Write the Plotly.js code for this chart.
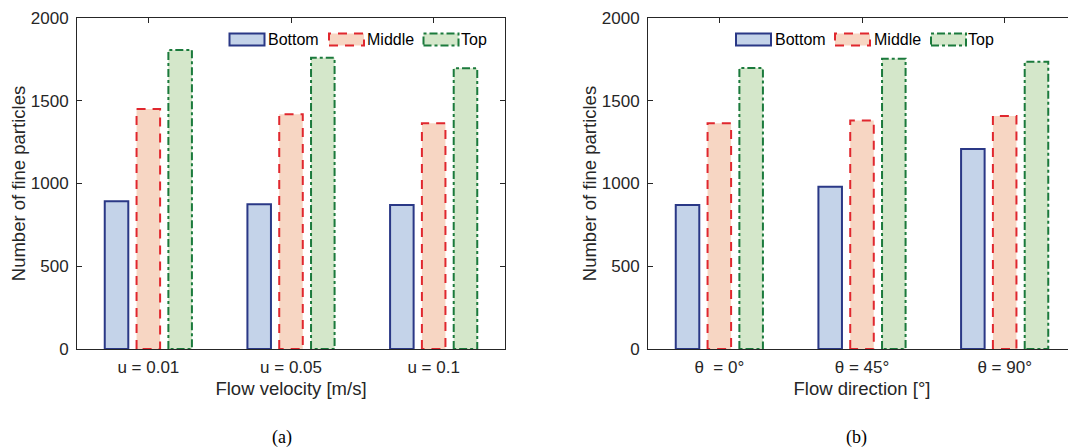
<!DOCTYPE html>
<html>
<head>
<meta charset="utf-8">
<script src="https://cdn.plot.ly/plotly-3.0.1.min.js"></script>
<style>
  html, body { margin: 0; padding: 0; overflow: hidden; background: #fff; }
  #chart { width: 1080px; height: 448px; }
</style>
</head>
<body>
<div id="chart"></div>
<script>
// ---------------- data ----------------
const seriesNames = ['Bottom', 'Middle', 'Top'];
const categoriesA = ['u = 0.01', 'u = 0.05', 'u = 0.1'];
const categoriesB = ['\u03B8\u00A0 = 0\u00B0', '\u03B8 = 45\u00B0', '\u03B8 = 90\u00B0'];
const bottomA = [892, 874, 870];
const middleA = [1450, 1418, 1364];
const topA    = [1807, 1760, 1696];
const bottomB = [870, 981, 1208];
const middleB = [1364, 1380, 1408];
const topB    = [1698, 1754, 1736];
const yTickVals = [0, 500, 1000, 1500, 2000];
const xTitleA = 'Flow velocity [m/s]';
const xTitleB = 'Flow direction [\u00B0]';
const yTitle = 'Number of fine particles';
const panelLabels = ['(a)', '(b)'];

// ---------------- styles ----------------
const FONT = '"Liberation Sans", Arial, Helvetica, sans-serif';
const AXC = '#262626';
const styles = [
  { fill: '#c4d3e9', line: '#2a3886', dash: 'solid' },
  { fill: '#f7d6c3', line: '#e0272e', dash: '9px,7px' },
  { fill: '#d4e7ca', line: '#1b7a3c', dash: '8px,3px,3px,3px' }
];
const BW = 0.165;      // bar width (axis units)
const PITCH = 0.223;   // distance between bar centres in a group
const LW = 2;

const W = 1080, H = 448;
const ML = 77, MR = 3, MT = 18, MB = 99;
const PW = W - ML - MR, PH = H - MT - MB;
const X = px => (px - ML) / PW;
const Y = py => (H - MB - py) / PH;

const traces = [];
function addPanel(cats, valueSets, xa, ya) {
  const idx = cats.map((_, i) => i);
  valueSets.forEach((vals, k) => {
    const off = (k - 1) * PITCH;
    const st = styles[k];
    traces.push({
      type: 'bar', x: idx, y: vals, width: BW, offset: off - BW / 2,
      xaxis: xa, yaxis: ya, name: seriesNames[k], showlegend: false,
      marker: { color: st.fill, line: { color: st.line, width: k === 0 ? LW : 0 } },
      hoverinfo: 'y'
    });
    if (k > 0) {
      const ox = [], oy = [];
      idx.forEach((xi, j) => {
        const l = xi + off - BW / 2, r = xi + off + BW / 2;
        ox.push(l, l, r, r, l, null);
        oy.push(0, vals[j], vals[j], 0, 0, null);
      });
      traces.push({
        type: 'scatter', mode: 'lines', x: ox, y: oy, xaxis: xa, yaxis: ya,
        showlegend: false, hoverinfo: 'skip', connectgaps: false,
        line: { color: st.line, width: LW, dash: st.dash }
      });
    }
  });
}
addPanel(categoriesA, [bottomA, middleA, topA], 'x', 'y');
addPanel(categoriesB, [bottomB, middleB, topB], 'x2', 'y2');

function xAxis(domain, cats, title) {
  return {
    domain: domain, range: [-0.5, 2.5], tickmode: 'array',
    tickvals: cats.map((_, i) => i), ticktext: cats,
    ticks: 'inside', ticklen: 5, tickwidth: 1, tickcolor: AXC,
    showline: true, linecolor: AXC, linewidth: 1, mirror: 'ticks',
    showgrid: false, zeroline: false, layer: 'below traces',
    tickfont: { family: FONT, size: 17, color: AXC },
    ticklabelstandoff: 3,
    title: { text: title, font: { family: FONT, size: 18.5, color: AXC }, standoff: 5 },
    fixedrange: true
  };
}
function yAxis(anchor) {
  return {
    anchor: anchor, domain: [0, 1], range: [0, 2000], tickmode: 'array',
    tickvals: yTickVals, ticks: 'inside', ticklen: 5, tickwidth: 1, tickcolor: AXC,
    showline: true, linecolor: AXC, linewidth: 1, mirror: 'ticks',
    showgrid: false, zeroline: false, layer: 'below traces',
    tickfont: { family: FONT, size: 17, color: AXC },
    ticklabelstandoff: 4,
    title: { text: yTitle, font: { family: FONT, size: 18.5, color: AXC }, standoff: 0 },
    fixedrange: true
  };
}

// custom legends (wide swatches like the original)
const shapes = [], annotations = [];
function addLegend(swatchLefts, textLefts) {
  seriesNames.forEach((nm, k) => {
    const st = styles[k];
    shapes.push({
      type: 'rect', xref: 'paper', yref: 'paper',
      x0: X(swatchLefts[k] + 1), x1: X(swatchLefts[k] + 36),
      y0: Y(45.5), y1: Y(33.5),
      fillcolor: st.fill, line: { color: st.line, width: LW, dash: st.dash }
    });
    annotations.push({
      xref: 'paper', yref: 'paper', x: X(textLefts[k]), y: Y(39.5),
      xanchor: 'left', yanchor: 'middle', showarrow: false, text: nm,
      font: { family: FONT, size: 16, color: '#000' }, borderpad: 0
    });
  });
}
addLegend([228.5, 328, 422.5], [267, 365.5, 460]);
addLegend([735, 834, 930], [773.5, 872.5, 967]);

[[panelLabels[0], 282], [panelLabels[1], 856]].forEach(([t, px]) => {
  annotations.push({
    xref: 'paper', yref: 'paper', x: X(px), y: Y(437), xanchor: 'center', yanchor: 'middle',
    showarrow: false, text: t,
    font: { family: '"Liberation Serif", "Times New Roman", serif', size: 18, color: '#000' }
  });
});

const layout = {
  width: W, height: H,
  margin: { l: ML, r: MR, t: MT, b: MB, pad: 0 },
  paper_bgcolor: '#fff', plot_bgcolor: '#fff',
  barmode: 'overlay', showlegend: false,
  xaxis: xAxis([0, 428 / PW], categoriesA, xTitleA),
  yaxis: yAxis('x'),
  xaxis2: xAxis([(648 - ML) / PW, (1076 - ML) / PW], categoriesB, xTitleB),
  yaxis2: yAxis('x2'),
  shapes: shapes, annotations: annotations
};
layout.xaxis.anchor = 'y';
layout.xaxis2.anchor = 'y2';

Plotly.newPlot('chart', traces, layout, { displayModeBar: false, staticPlot: true });
</script>
</body>
</html>
